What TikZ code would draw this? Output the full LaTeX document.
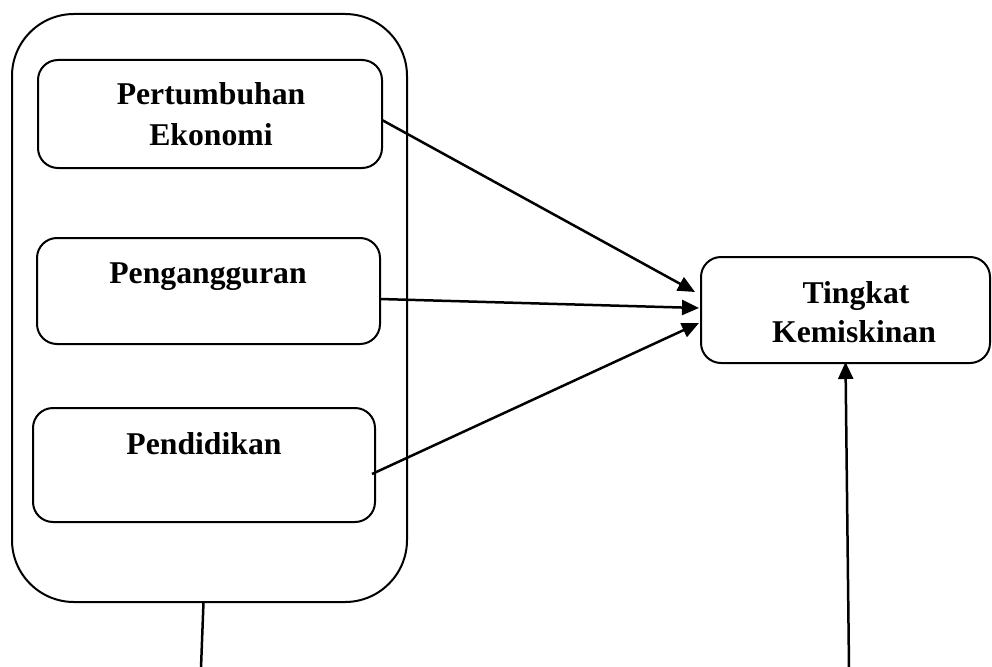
\documentclass[tikz,border=0pt]{standalone}
\usepackage{fontspec}
\setmainfont{Liberation Serif}
\usetikzlibrary{arrows.meta}
\begin{document}
\begin{tikzpicture}[x=1pt,y=-1pt,
  every node/.style={inner sep=0pt,outer sep=0pt},
  frame/.style={draw,line width=2pt,rounded corners=62pt,minimum width=395pt,minimum height=588pt},
  varbox/.style={draw,line width=2pt,rounded corners=20pt},
  lbl/.style={font=\fontsize{31.7}{39}\selectfont\bfseries,anchor=base},
  conn/.style={line width=2.5pt},
  arr/.style={conn,-{Triangle[length=17pt,width=15pt]}}]
\useasboundingbox (0,0) rectangle (992,666);
\node[frame] (outer) at (209.5,308) {};
\node[varbox,minimum width=344pt,minimum height=108pt] (b1) at (210,114) {};
\node[varbox,minimum width=343pt,minimum height=106pt] (b2) at (208.5,291) {};
\node[varbox,minimum width=342pt,minimum height=114pt] (b3) at (204,465) {};
\node[varbox,minimum width=289pt,minimum height=106pt] (tgt) at (845.5,310) {};
\node[lbl] (t1a) at (211,105) {Pertumbuhan};
\node[lbl] (t1b) at (211,145) {Ekonomi};
\node[lbl] (t2) at (208,283) {Pengangguran};
\node[lbl] (t3) at (204,454) {Pendidikan};
\node[lbl] (t4a) at (856,303) {Tingkat};
\node[lbl] (t4b) at (854,342) {Kemiskinan};
\draw[arr] ([yshift=-6pt]b1.east) -- ([xshift=-6pt,yshift=18pt]tgt.west);
\draw[arr] ([yshift=-8pt]b2.east) -- ([xshift=-2pt,yshift=2pt]tgt.west);
\draw[arr] ([xshift=-3pt,yshift=-9pt]b3.east) -- ([xshift=-2pt,yshift=-13pt]tgt.west);
\coordinate (lowA) at (201,668);
\coordinate (lowB) at (849,668);
\draw[conn] ([xshift=-6pt]outer.south) -- (lowA);
\draw[arr] (lowB) -- ([yshift=1pt]tgt.south);
\end{tikzpicture}
\end{document}
